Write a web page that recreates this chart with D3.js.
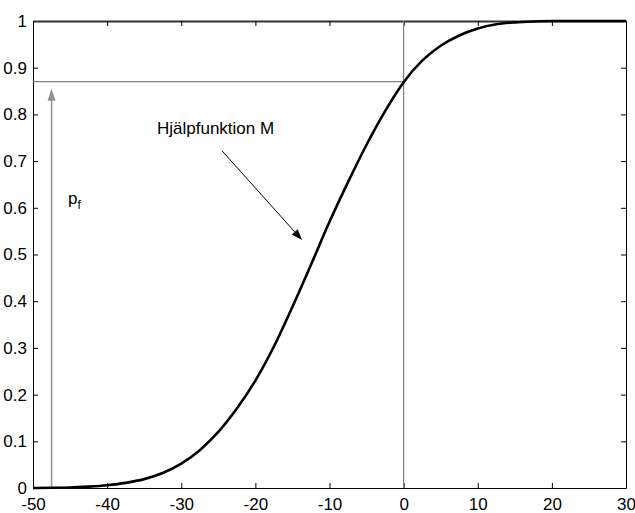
<!DOCTYPE html>
<html>
<head>
<meta charset="utf-8">
<script src="https://cdn.jsdelivr.net/npm/d3@7"></script>
<style>
  body { margin: 0; background: #fff; }
  svg text { font-family: Arial, "Liberation Sans", sans-serif; }
</style>
</head>
<body>
<svg id="chart" width="635" height="513"></svg>
<script>
// curve values
var xVals = [-50, -47.5, -45, -42.5, -40, -37.5, -35, -32.5, -30, -27.5, -25, -22.5, -20, -17.5,
             -15, -12.5, -10, -7.5, -5, -2.5, 0, 2.5, 5, 7.5, 10, 12.5, 15, 17.5, 20, 25, 30];
var yVals = [0, 0.0005, 0.001, 0.003, 0.006, 0.011, 0.019, 0.032, 0.052, 0.081, 0.12, 0.17, 0.23, 0.303,
             0.388, 0.478, 0.57, 0.655, 0.735, 0.807, 0.869, 0.915, 0.947, 0.969, 0.984, 0.993, 0.997, 0.999, 1, 1, 1];
var xTicks = [-50, -40, -30, -20, -10, 0, 10, 20, 30];
var yTicks = [0, 0.1, 0.2, 0.3, 0.4, 0.5, 0.6, 0.7, 0.8, 0.9, 1];

// annotations
var pfLevel = 0.87;          // horizontal reference line
var pfArrowX = -47.5;        // vertical p_f arrow
var pfArrowTop = 0.855;
var labelM = "Hjälpfunktion M";
var arrowM = [[-24.5, 0.722], [-13.7, 0.531]];

var svg = d3.select("#chart");
var x = d3.scaleLinear().domain([-50, 30]).range([33, 626]);
var y = d3.scaleLinear().domain([0, 1]).range([488, 21]);

var fmtX = function(d) { return String(d); };
var fmtY = function(d) { return d === 0 || d === 1 ? String(d) : d.toFixed(1); };

// axes (ticks point inward)
var gx = svg.append("g").attr("transform", "translate(0," + y(0) + ")")
    .call(d3.axisBottom(x).tickValues(xTicks).tickFormat(fmtX).tickSize(-5).tickSizeOuter(0).tickPadding(10));
var gy = svg.append("g").attr("transform", "translate(" + x(-50) + ",0)")
    .call(d3.axisLeft(y).tickValues(yTicks).tickFormat(fmtY).tickSize(-5).tickSizeOuter(0).tickPadding(6));
var gt = svg.append("g").attr("transform", "translate(0," + y(1) + ")")
    .call(d3.axisTop(x).tickValues(xTicks).tickFormat("").tickSize(-5).tickSizeOuter(0));
var gr = svg.append("g").attr("transform", "translate(" + x(30) + ",0)")
    .call(d3.axisRight(y).tickValues(yTicks).tickFormat("").tickSize(-5).tickSizeOuter(0));

svg.selectAll(".tick text").style("font-size", "17px").attr("fill", "#000");
svg.selectAll(".domain, .tick line").attr("stroke", "#000");
gt.select(".domain").attr("stroke-width", 2).attr("stroke", "#333");

// reference lines
svg.append("line")
    .attr("x1", x(0)).attr("x2", x(0)).attr("y1", y(0)).attr("y2", y(1))
    .attr("stroke", "#808080").attr("stroke-width", 1.2);
svg.append("line")
    .attr("x1", x(-50)).attr("x2", x(0)).attr("y1", y(pfLevel)).attr("y2", y(pfLevel))
    .attr("stroke", "#808080").attr("stroke-width", 1.2);

// p_f arrow
svg.append("line")
    .attr("x1", x(pfArrowX)).attr("x2", x(pfArrowX)).attr("y1", y(0)).attr("y2", y(pfArrowTop) + 10)
    .attr("stroke", "#909090").attr("stroke-width", 1.5);
var px = x(pfArrowX), py = y(pfArrowTop);
svg.append("path")
    .attr("d", "M" + px + "," + py + "L" + (px - 4) + "," + (py + 12) + "L" + (px + 4) + "," + (py + 12) + "Z")
    .attr("fill", "#909090");

var pf = svg.append("text").attr("x", 68).attr("y", 204).style("font-size", "17px");
pf.append("tspan").text("p");
pf.append("tspan").attr("dy", 5).style("font-size", "12px").text("f");

// curve
var line = d3.line()
    .x(function(d, i) { return x(xVals[i]); })
    .y(function(d) { return y(d); })
    .curve(d3.curveMonotoneX);
svg.append("path").datum(yVals)
    .attr("d", line)
    .attr("fill", "none").attr("stroke", "#000").attr("stroke-width", 2.6);

// label + arrow for M
svg.append("text").attr("x", 157).attr("y", 134).style("font-size", "17px").text(labelM);
var a0 = [x(arrowM[0][0]), y(arrowM[0][1])], a1 = [x(arrowM[1][0]), y(arrowM[1][1])];
var ang = Math.atan2(a1[1] - a0[1], a1[0] - a0[0]);
var hl = 11, hw = 4;
var bx = a1[0] - hl * Math.cos(ang), by = a1[1] - hl * Math.sin(ang);
svg.append("line")
    .attr("x1", a0[0]).attr("y1", a0[1]).attr("x2", bx).attr("y2", by)
    .attr("stroke", "#000").attr("stroke-width", 1);
svg.append("path")
    .attr("d", "M" + a1[0] + "," + a1[1] +
        "L" + (bx + hw * Math.sin(ang)) + "," + (by - hw * Math.cos(ang)) +
        "L" + (bx - hw * Math.sin(ang)) + "," + (by + hw * Math.cos(ang)) + "Z")
    .attr("fill", "#000");
</script>
</body>
</html>
